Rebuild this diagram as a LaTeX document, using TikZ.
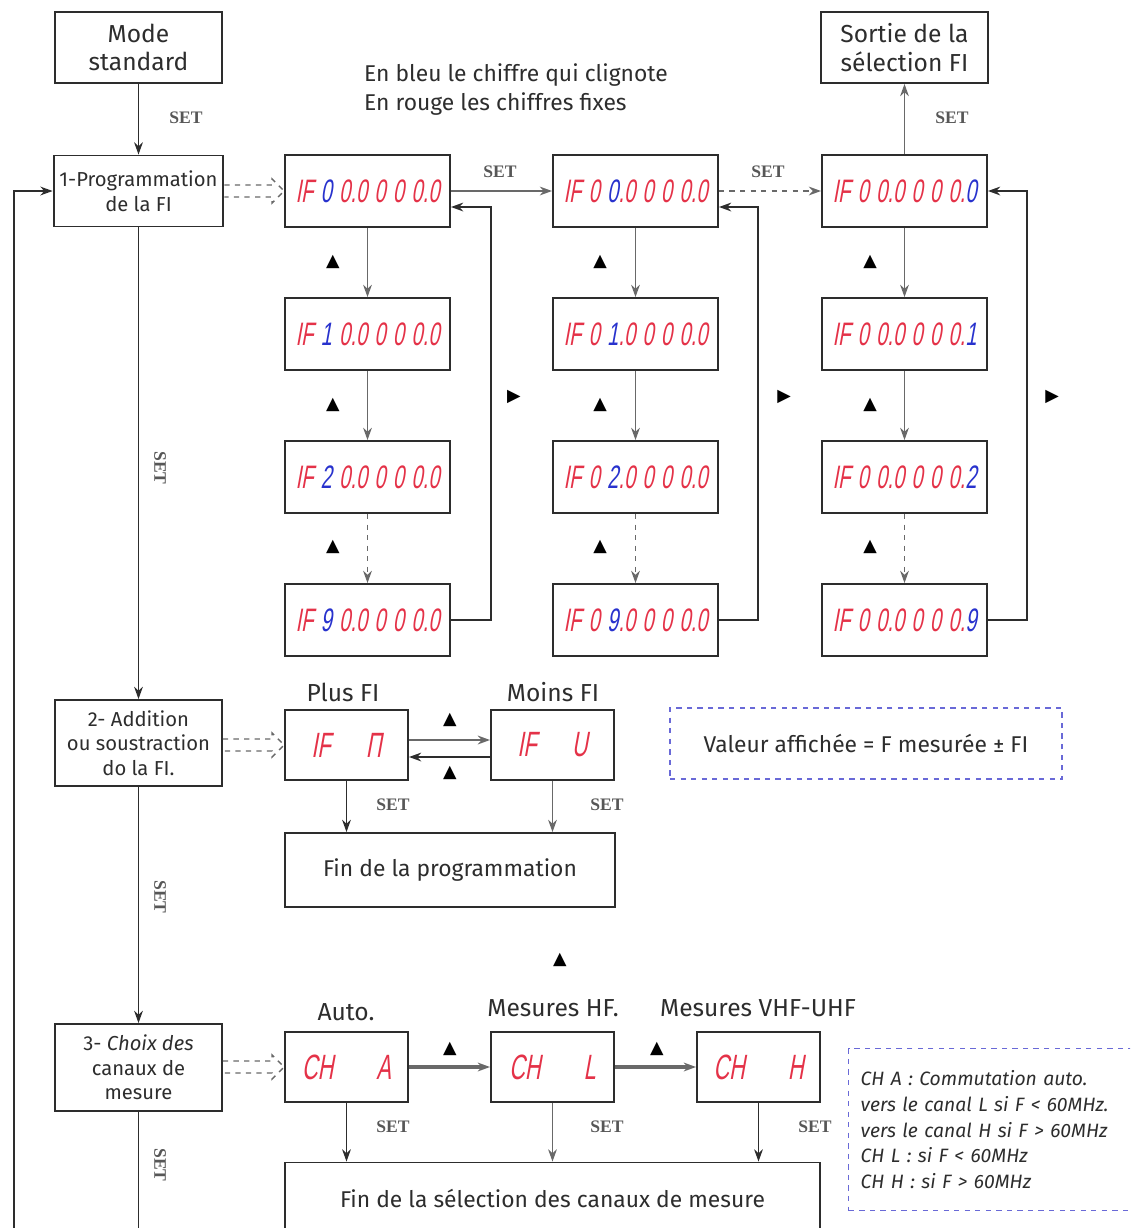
\documentclass[tikz,border=0pt]{standalone}
\usepackage{fontspec}
\setmainfont{Fira Sans}
\newfontfamily\segfont[FakeSlant=0.18,FakeStretch=0.62,WordSpace=1.3]{Liberation Sans}
\newfontfamily\symfont{DejaVu Sans}
\newfontfamily\keyfont{Liberation Serif}
\usetikzlibrary{arrows.meta,calc}
\definecolor{segred}{RGB}{228,50,72}
\definecolor{segblue}{RGB}{40,50,205}
\definecolor{lineg}{RGB}{105,105,105}
\definecolor{inkg}{RGB}{45,45,45}
\definecolor{dashblue}{RGB}{105,105,215}
\newcommand{\bl}[1]{\textcolor{segblue}{#1}}
\newcommand{\upkey}{{\symfont ▲}}
\newcommand{\rightkey}{{\symfont ▶}}
\newcommand{\fatarrow}[2]{\draw[lineg,dashed,line width=0.8pt] ($(#1.east |- #2.west)+(0,-6)$) -- ($(#2.west)+(-12,-6)$) -- ($(#2.west)+(-12,-12)$) -- (#2.west) -- ($(#2.west)+(-12,12)$) -- ($(#2.west)+(-12,6)$) -- ($(#1.east |- #2.west)+(0,6)$);}
\begin{document}
\begin{tikzpicture}[x=0.02cm,y=-0.02cm,>={Stealth[length=7pt,width=5pt]},
  bx/.style={draw=inkg,line width=1.1pt,minimum width=3.34cm,minimum height=1.42cm,align=center,text=inkg,font=\fontsize{11.5pt}{14pt}\selectfont},
  disp/.style={draw=inkg,line width=1.1pt,minimum width=3.3cm,minimum height=1.44cm,inner sep=0pt,text=segred,font=\segfont\fontsize{18.5pt}{20pt}\selectfont},
  sdisp/.style={disp,minimum width=2.46cm,minimum height=1.4cm,font=\segfont\fontsize{20pt}{20pt}\selectfont},
  endbox/.style={draw=inkg,line width=1.1pt,align=center,text=inkg,font=\fontsize{13pt}{16pt}\selectfont},
  note/.style={draw=dashblue,dashed,line width=0.8pt,text=inkg},
  lab/.style={text=inkg,font=\fontsize{14pt}{16pt}\selectfont},
  setl/.style={text=inkg!80,font=\keyfont\bfseries\fontsize{10pt}{12pt}\selectfont},
  key/.style={font=\fontsize{10pt}{12pt}\selectfont},
  main/.style={draw=inkg,line width=1pt},
  gl/.style={draw=lineg,line width=0.9pt}]
  \useasboundingbox (0,0) rectangle (1130,1228);
  \clip (0,0) rectangle (1130,1228);
  % left side boxes
  \node[bx,font=\fontsize{14pt}{16pt}\selectfont] (mode) at (138.5,47.5){Mode\\standard};
  \node[bx] (p1) at (138.5,191){1-Programmation\\de la FI};
  \node[bx,minimum height=1.72cm] (p2) at (138.5,743){2- Addition\\ou soustraction\\do la FI.};
  \node[bx,minimum height=1.74cm] (p3) at (138.5,1067.5){3- \textit{Choix des}\\canaux de\\mesure};
  \node[bx,font=\fontsize{14pt}{16pt}\selectfont] (sortie) at (904.5,47.5){Sortie de la\\sélection FI};
  \node[anchor=west,align=left,text=inkg,font=\fontsize{13pt}{16.5pt}\selectfont] (ttl) at (358,90){En bleu le chiffre qui clignote\\En rouge les chiffres fixes};
  % displays
  \node[disp] (c1r1) at (367.5,191){IF \bl{0} 0.0 0 0 0.0};
  \node[disp] (c1r2) at (367.5,334){IF \bl{1} 0.0 0 0 0.0};
  \node[disp] (c1r3) at (367.5,477){IF \bl{2} 0.0 0 0 0.0};
  \node[disp] (c1r4) at (367.5,620){IF \bl{9} 0.0 0 0 0.0};
  \node[disp] (c2r1) at (635.5,191){IF 0 \bl{0}.0 0 0 0.0};
  \node[disp] (c2r2) at (635.5,334){IF 0 \bl{1}.0 0 0 0.0};
  \node[disp] (c2r3) at (635.5,477){IF 0 \bl{2}.0 0 0 0.0};
  \node[disp] (c2r4) at (635.5,620){IF 0 \bl{9}.0 0 0 0.0};
  \node[disp] (c3r1) at (904.5,191){IF 0 0.0 0 0 0.\bl{0}};
  \node[disp] (c3r2) at (904.5,334){IF 0 0.0 0 0 0.\bl{1}};
  \node[disp] (c3r3) at (904.5,477){IF 0 0.0 0 0 0.\bl{2}};
  \node[disp] (c3r4) at (904.5,620){IF 0 0.0 0 0 0.\bl{9}};
  \node[sdisp] (plus) at (346.5,745){IF\quad П};
  \node[sdisp] (moins) at (552.5,745){IF\quad U};
  \node[sdisp] (cha) at (346.5,1067){CH\quad\ A};
  \node[sdisp] (chl) at (552.5,1067){CH\quad\ L};
  \node[sdisp] (chh) at (758.5,1067){CH\quad\ H};
  \node[lab] (lplus) at (343,692){Plus FI};
  \node[lab] (lmoins) at (553,692){Moins FI};
  \node[lab] (lauto) at (346,1012){Auto.};
  \node[lab] (lhf) at (553,1008){Mesures HF.};
  \node[lab] (lvhf) at (758,1008){Mesures VHF-UHF};
  \node[endbox,minimum width=6.6cm,minimum height=1.48cm] (finp) at (450,870){Fin de la programmation};
  \node[endbox,minimum width=10.7cm,minimum height=1.7cm] (fins) at (552.5,1205){\raisebox{8pt}{Fin de la sélection des canaux de mesure}};
  \node[note,minimum width=7.84cm,minimum height=1.42cm,font=\fontsize{13pt}{16pt}\selectfont] (val) at (866,743.5){Valeur affichée = F mesurée ± FI};
  \node[note,anchor=north west,minimum height=3.24cm,text width=5.6cm,inner xsep=0.24cm,align=left,font=\itshape\fontsize{11pt}{14.6pt}\selectfont] (nch) at (848,1048){CH A : Commutation auto.\\vers le canal L si F < 60MHz.\\vers le canal H si F > 60MHz\\CH L : si F < 60MHz\\CH H : si F > 60MHz};
  % keys
  \node[key] (k1) at (333,262){\upkey};
  \node[key] (k2) at (333,405){\upkey};
  \node[key] (k3) at (333,547){\upkey};
  \node[key] (k4) at (600,262){\upkey};
  \node[key] (k5) at (600,405){\upkey};
  \node[key] (k6) at (600,547){\upkey};
  \node[key] (k7) at (870,262){\upkey};
  \node[key] (k8) at (870,405){\upkey};
  \node[key] (k9) at (870,547){\upkey};
  \node[key] (r1) at (514,397){\rightkey};
  \node[key] (r2) at (784,397){\rightkey};
  \node[key] (r3) at (1052,397){\rightkey};
  \node[key] (k10) at (450,720){\upkey};
  \node[key] (k11) at (450,773){\upkey};
  \node[key] (k12) at (560,960){\upkey};
  \node[key] (k13) at (450,1049){\upkey};
  \node[key] (k14) at (657,1049){\upkey};
  % SET labels
  \node[setl] (s1) at (186,118){SET};
  \node[setl] (s2) at (500,172){SET};
  \node[setl] (s3) at (768,172){SET};
  \node[setl] (s4) at (952,118){SET};
  \node[setl,rotate=-90] (s5) at (160,468){SET};
  \node[setl,rotate=-90] (s6) at (160,897){SET};
  \node[setl,rotate=-90] (s7) at (160,1165){SET};
  \node[setl] (s8) at (393,805){SET};
  \node[setl] (s9) at (607,805){SET};
  \node[setl] (s10) at (393,1127){SET};
  \node[setl] (s11) at (607,1127){SET};
  \node[setl] (s12) at (815,1127){SET};
  % connectors
  \coordinate (bl) at (14,1240);
  \coordinate (bm) at (138.5,1240);
  \draw[main,->] (mode) -- (p1);
  \draw[main,->] (p1) -- (p2);
  \draw[main,->] (p2) -- (p3);
  \draw[main] (p3) -- (bm);
  \draw[main,->] (bl) |- (p1.west);
  \fatarrow{p1}{c1r1}
  \fatarrow{p2}{plus}
  \fatarrow{p3}{cha}
  \draw[gl,->] (c1r1) -- (c1r2);
  \draw[gl,->] (c1r2) -- (c1r3);
  \draw[gl,dashed,->] (c1r3) -- (c1r4);
  \draw[gl,->] (c2r1) -- (c2r2);
  \draw[gl,->] (c2r2) -- (c2r3);
  \draw[gl,dashed,->] (c2r3) -- (c2r4);
  \draw[gl,->] (c3r1) -- (c3r2);
  \draw[gl,->] (c3r2) -- (c3r3);
  \draw[gl,dashed,->] (c3r3) -- (c3r4);
  \draw[gl,->] (c1r1) -- (c2r1);
  \draw[gl,dashed,->] (c2r1) -- (c3r1);
  \draw[gl,->] (c3r1) -- (sortie);
  \draw[main,->] (c1r4.east) -- ++(40,0) |- ($(c1r1.east)+(0,16)$);
  \draw[main,->] (c2r4.east) -- ++(39,0) |- ($(c2r1.east)+(0,16)$);
  \draw[main,->] (c3r4.east) -- ++(39,0) |- (c3r1.east);
  \draw[gl,line width=1.4pt,->] ($(plus.east)+(0,-5)$) -- ($(moins.west)+(0,-5)$);
  \draw[main,->] ($(moins.west)+(0,12)$) -- ($(plus.east)+(0,12)$);
  \draw[main,->] (plus) -- (plus |- finp.north);
  \draw[gl,->] (moins) -- (moins |- finp.north);
  \draw[gl,line width=2.2pt,->] (cha) -- (chl);
  \draw[gl,line width=2.2pt,->] (chl) -- (chh);
  \draw[main,->] (cha) -- (cha |- fins.north);
  \draw[gl,->] (chl) -- (chl |- fins.north);
  \draw[main,->] (chh) -- (chh |- fins.north);
\end{tikzpicture}
\end{document}
